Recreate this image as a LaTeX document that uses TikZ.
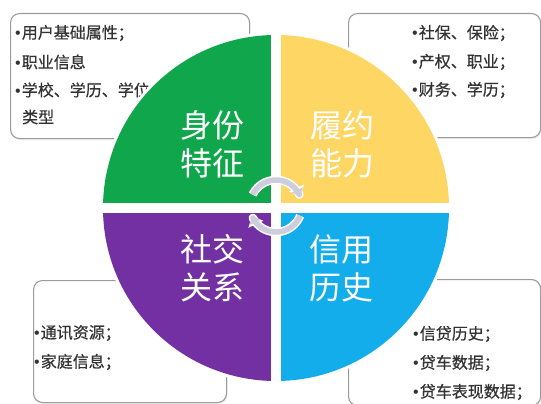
\documentclass[tikz,border=0pt]{standalone}
\usepackage{fontspec}
\newfontfamily\cjk{Noto Sans CJK SC}
\newfontfamily\cjkm[FakeBold=0.5]{Noto Sans CJK SC}
\newfontfamily\lat{Liberation Sans}
\usetikzlibrary{arrows.meta,shadows}
\definecolor{qgreen}{HTML}{10A64C}
\definecolor{qyellow}{HTML}{FDD663}
\definecolor{qpurple}{HTML}{7230A2}
\definecolor{qblue}{HTML}{14ADEC}
\definecolor{boxline}{HTML}{9C9C9C}
\definecolor{txt}{HTML}{333333}
\definecolor{cyc}{HTML}{CDCDDD}
\newcommand{\bul}{{\lat •}\hspace{1pt}}
\begin{document}
\begin{tikzpicture}[x=1pt,y=-1pt,
  infobox/.style={draw=boxline,line width=1.1pt,rounded corners=9pt,fill=white,
    drop shadow={opacity=0.12,shadow xshift=1pt,shadow yshift=-1.5pt},anchor=north west},
  item/.style={anchor=west,inner sep=0pt,text=txt,font=\cjkm\fontsize{16}{18}\selectfont},
  big/.style={text=white,align=center,inner sep=0pt,font=\cjk\fontsize{32}{38}\selectfont},
  cycline/.style={line width=5.5pt,line join=round,line cap=butt,draw=cyc,-{Triangle[width=12pt,length=7pt]},
    preaction={draw=white,line width=8.5pt,line join=round,-{Triangle[width=16pt,length=9pt]}}}]
\useasboundingbox[fill=white] (0,0) rectangle (541,404);

% info boxes
\node[infobox,minimum width=239pt,minimum height=125pt] (tl) at (10,13) {};
\node[infobox,minimum width=192pt,minimum height=124pt] (tr) at (348,13) {};
\node[infobox,minimum width=193pt,minimum height=122pt] (bl) at (33,280) {};
\node[infobox,minimum width=192pt,minimum height=126pt] (br) at (348,279) {};

% box texts
\node[item] (tl1) at (15,33) {\bul 用户基础属性；};
\node[item] (tl2) at (15,62) {\bul 职业信息};
\node[item] (tl3) at (15,90) {\bul 学校、学历、学位};
\node[item] (tl4) at (22,117) {类型};
\node[item] (tr1) at (412,33) {\bul 社保、保险；};
\node[item] (tr2) at (412,62) {\bul 产权、职业；};
\node[item] (tr3) at (412,90) {\bul 财务、学历；};
\node[item] (bl1) at (34,333) {\bul 通讯资源；};
\node[item] (bl2) at (34,362) {\bul 家庭信息；};
\node[item] (br1) at (413,334) {\bul 信贷历史；};
\node[item] (br2) at (413,363) {\bul 贷车数据；};
\node[item] (br3) at (413,392) {\bul 贷车表现数据；};

% circle quadrants
\fill[white] (276,208) circle[radius=176pt];
\begin{scope}
\clip (276,208) circle[radius=173pt];
\fill[qgreen]  (95,30)  rectangle (271,203);
\fill[qyellow] (281,30) rectangle (455,203);
\fill[qpurple] (95,213) rectangle (271,386);
\fill[qblue]   (281,213) rectangle (455,386);
\end{scope}

% labels
\node[big] (sf) at (212,144) {身份\\特征};
\node[big] (ly) at (342,144) {履约\\能力};
\node[big] (sj) at (212,268) {社交\\关系};
\node[big] (xy) at (341,268) {信用\\历史};

% cycle arrows
\draw[cycline] plot[domain=206:338,samples=34] ({276+26*cos(\x)},{206+26*sin(\x)});
\draw[cycline] plot[domain=22:157,samples=34] ({276+26*cos(\x)},{206+26*sin(\x)});
\end{tikzpicture}
\end{document}
